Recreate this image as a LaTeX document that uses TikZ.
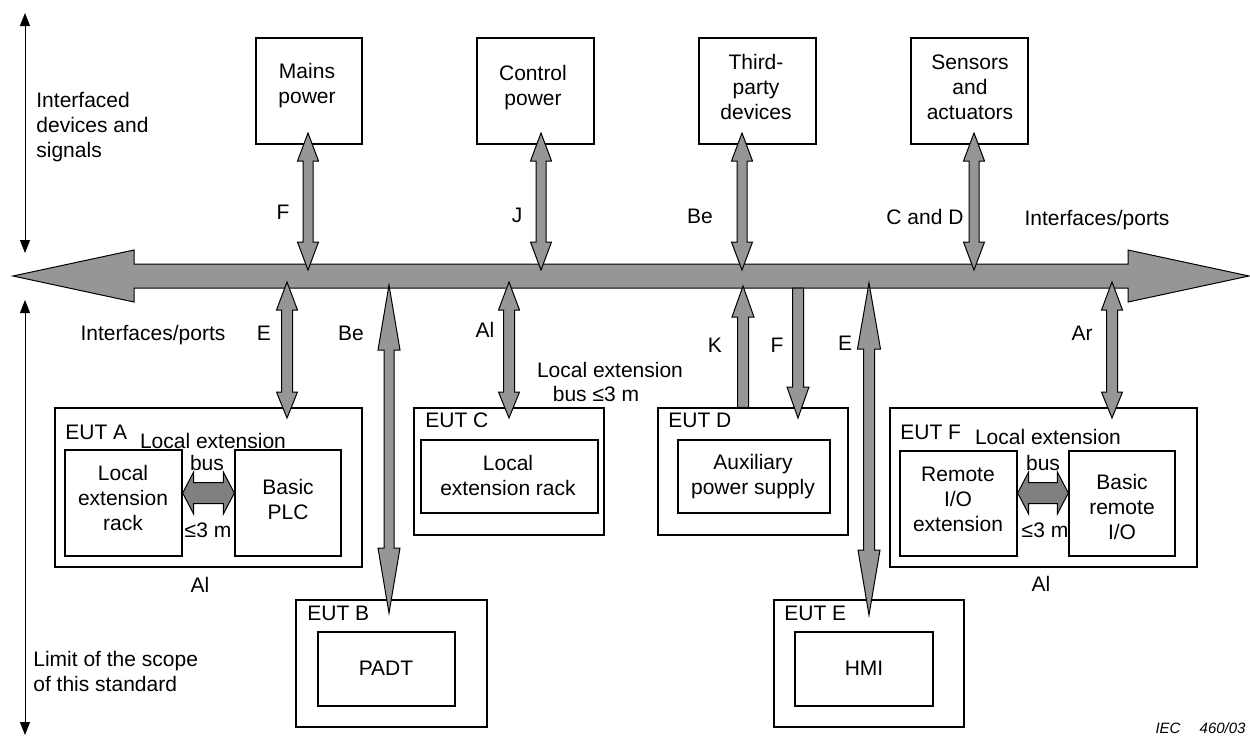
\documentclass[tikz,border=0pt]{standalone}
\usepackage{fontspec}
\setmainfont{Liberation Sans}
\usetikzlibrary{calc,fit,arrows.meta}
\definecolor{busgray}{RGB}{150,150,150}
\definecolor{bargray}{RGB}{128,128,128}
% vertical fat arrow: #1 style, #2 top, #3 bottom, #4 shaft half, #5 top head half, #6 top head len, #7 bottom head half, #8 bottom head len
\newcommand\vfat[8]{%
  \path[#1] let \p1=(#2), \p2=(#3) in
  (\x1,\y1) -- (\x1+#5,\y1-#6) -- (\x1+#4,\y1-#6) -- (\x1+#4,\y2+#8) -- (\x1+#7,\y2+#8)
  -- (\x1,\y2) -- (\x1-#7,\y2+#8) -- (\x1-#4,\y2+#8) -- (\x1-#4,\y1-#6) -- (\x1-#5,\y1-#6) -- cycle;}
% horizontal fat double arrow: #1 style, #2 left, #3 right, #4 shaft half, #5 head half, #6 head len
\newcommand\hfat[6]{%
  \path[#1] let \p1=(#2), \p2=(#3) in
  (\x1,\y1) -- (\x1+#6,\y1+#5) -- (\x1+#6,\y1+#4) -- (\x2-#6,\y1+#4) -- (\x2-#6,\y1+#5)
  -- (\x2,\y1) -- (\x2-#6,\y1-#5) -- (\x2-#6,\y1-#4) -- (\x1+#6,\y1-#4) -- (\x1+#6,\y1-#5) -- cycle;}
\tikzset{
  box/.style={draw=black, line width=0.65pt, inner sep=0pt},
  txt/.style={inner sep=0pt, align=center, font=\fontsize{10.5}{12.5}\selectfont},
  ltxt/.style={txt, anchor=west, align=left},
  fatarrow/.style={fill=busgray, draw=black, line width=0.5pt, line join=miter},
  smallarrow/.style={fill=bargray, draw=black, line width=0.5pt, line join=miter},
  thinarrow/.style={line width=0.5pt, {Triangle[width=5pt,length=6.5pt]}-{Triangle[width=5pt,length=6.5pt]}},
}
\begin{document}
\begin{tikzpicture}[x=0.5pt,y=-0.5pt]
\useasboundingbox (0,0) rectangle (1250,736);
\fill[white] (0,0) rectangle (1250,736);

% left scope arrows
\coordinate (sa1) at (25,13); \coordinate (sa2) at (25,253);
\coordinate (sb1) at (25,300); \coordinate (sb2) at (25,735);
\draw[thinarrow] (sa1) -- (sa2);
\draw[thinarrow] (sb1) -- (sb2);
\node[ltxt] (tIDS) at (36,127) {Interfaced\\devices and\\signals};
\node[ltxt] (tLimit) at (33,671) {Limit of the scope\\of this standard};

% top boxes
\node[box, fit={(256,38) (362,144)}] (mains) {};
\node[box, fit={(477,38) (594,144)}] (ctrl) {};
\node[box, fit={(699,38) (816,144)}] (third) {};
\node[box, fit={(911,38) (1028,144)}] (sens) {};
\node[txt] (tMains) at (307,86) {Mains\\power};
\node[txt] (tCtrl) at (533,88) {Control\\power};
\node[txt] (tThird) at (756,87) {Third-\\party\\devices};
\node[txt] (tSens) at (970,87) {Sensors\\and\\actuators};

% EUT A
\node[box, fit={(55,408) (362,567)}] (eutA) {};
\node[box, fit={(65,450) (182,556)}] (rackA) {};
\node[box, fit={(235,450) (341,556)}] (plcA) {};
\node[ltxt] (tEA) at (65,432) {EUT A};
\node[txt] (tLEA) at (213,441) {Local extension};
\node[txt] (tBusA) at (207,463) {bus};
\node[txt] (tLenA) at (208,530) {≤3 m};
\node[txt] (tRackA) at (123,498) {Local\\extension\\rack};
\node[txt] (tPlcA) at (288,499) {Basic\\PLC};
\node[txt] (tAlA) at (200,585) {Al};

% EUT C
\node[box, fit={(414,408) (604,535)}] (eutC) {};
\node[box, fit={(421,440) (598,513)}] (rackC) {};
\node[ltxt] (tEC) at (425,420) {EUT C};
\node[txt] (tRackC) at (508,475) {Local\\extension rack};
\node[txt] (tLEB1) at (610,370) {Local extension};
\node[txt] (tLEB2) at (596,394) {bus ≤3 m};

% EUT D
\node[box, fit={(658,408) (848,535)}] (eutD) {};
\node[box, fit={(678,440) (830,513)}] (auxD) {};
\node[ltxt] (tED) at (668,420) {EUT D};
\node[txt] (tAuxD) at (753,477) {Auxiliary\\power supply};

% EUT F
\node[box, fit={(890,408) (1197,567)}] (eutF) {};
\node[box, fit={(900,451) (1017,556)}] (rioF) {};
\node[box, fit={(1069,451) (1175,556)}] (briF) {};
\node[ltxt] (tEF) at (900,432) {EUT F};
\node[txt] (tLEF) at (1048,437) {Local extension};
\node[txt] (tBusF) at (1043,463) {bus};
\node[txt] (tLenF) at (1045,530) {≤3 m};
\node[txt] (tRioF) at (958,499) {Remote\\I/O\\extension};
\node[txt] (tBriF) at (1122,507) {Basic\\remote\\I/O};
\node[txt] (tAlF) at (1041,584) {Al};

% EUT B
\node[box, fit={(296,600) (487,727)}] (eutB) {};
\node[box, fit={(318,632) (455,706)}] (padt) {};
\node[ltxt] (tEB) at (307,613) {EUT B};
\node[txt] (tPadt) at (386,668) {PADT};

% EUT E
\node[box, fit={(774,600) (964,727)}] (eutE) {};
\node[box, fit={(795,632) (933,706)}] (hmi) {};
\node[ltxt] (tEE) at (784,613) {EUT E};
\node[txt] (tHmi) at (864,668) {HMI};

% bus
\coordinate (busL) at (13,276); \coordinate (busR) at (1249,276);
\hfat{fatarrow}{busL}{busR}{6pt}{13pt}{60.5pt}

% small local extension bus arrows
\coordinate (ly) at (0,493);
\coordinate (laL) at (rackA.east |- ly); \coordinate (laR) at (plcA.west |- ly);
\hfat{smallarrow}{laL}{laR}{5.25pt}{10.5pt}{5.5pt}
\coordinate (lfL) at (rioF.east |- ly); \coordinate (lfR) at (briF.west |- ly);
\hfat{smallarrow}{lfL}{lfR}{5.25pt}{10.5pt}{5.5pt}

% arrows between top devices and bus
\coordinate (mT) at (308,133); \coordinate (mB) at (308,270);
\coordinate (cT) at (541,133); \coordinate (cB) at (541,270);
\coordinate (tT) at (742,133); \coordinate (tB) at (742,270);
\coordinate (sT) at (974,133); \coordinate (sB) at (974,270);
\vfat{fatarrow}{mT}{mB}{2.5pt}{5.25pt}{14pt}{5.25pt}{14pt}
\vfat{fatarrow}{cT}{cB}{2.5pt}{5.25pt}{14pt}{5.25pt}{14pt}
\vfat{fatarrow}{tT}{tB}{2.5pt}{5.25pt}{14pt}{5.25pt}{14pt}
\vfat{fatarrow}{sT}{sB}{2.5pt}{5.25pt}{14pt}{5.25pt}{14pt}

% arrows between bus and EUTs
\coordinate (eaT) at (287,282); \coordinate (eaB) at (287,418);
\coordinate (ecT) at (509,282); \coordinate (ecB) at (509,418);
\coordinate (efT) at (1112,282); \coordinate (efB) at (1112,418);
\vfat{fatarrow}{eaT}{eaB}{2.75pt}{5.25pt}{14pt}{5.25pt}{13pt}
\vfat{fatarrow}{ecT}{ecB}{2.75pt}{5.25pt}{14pt}{5.25pt}{13pt}
\vfat{fatarrow}{efT}{efB}{2.75pt}{5.25pt}{14pt}{5.25pt}{13pt}
\coordinate (ebT) at (389,285); \coordinate (ebB) at (389,613);
\coordinate (eeT) at (869,283); \coordinate (eeB) at (869,615);
\vfat{fatarrow}{ebT}{ebB}{2.5pt}{5.5pt}{32.5pt}{5.5pt}{32.5pt}
\vfat{fatarrow}{eeT}{eeB}{2.75pt}{5.75pt}{33pt}{5.5pt}{32.5pt}
\coordinate (kT) at (743,286); \coordinate (kB) at (kT |- eutD.north);
\vfat{fatarrow}{kT}{kB}{2.75pt}{5.5pt}{15.5pt}{2.75pt}{0pt}
\coordinate (fT) at (798,288); \coordinate (fB) at (798,418);
\vfat{fatarrow}{fT}{fB}{2.75pt}{2.75pt}{0pt}{5.5pt}{15.5pt}

% connector labels
\node[txt] (lF1) at (283,212) {F};
\node[txt] (lJ) at (517,215) {J};
\node[txt] (lBe1) at (700,216) {Be};
\node[txt] (lCD) at (925,217) {C and D};
\node[txt] (tIPr) at (1097,220) {Interfaces/ports};
\node[txt] (tIPl) at (153,335) {Interfaces/ports};
\node[txt] (lE1) at (264,333) {E};
\node[txt] (lBe2) at (351,333) {Be};
\node[txt] (lAl1) at (485,330) {Al};
\node[txt] (lK) at (715,345) {K};
\node[txt] (lF2) at (777,345) {F};
\node[txt] (lE2) at (845,343) {E};
\node[txt] (lAr) at (1082,333) {Ar};

% figure number
\node[inner sep=0pt, anchor=east, font=\fontsize{7.5}{9}\selectfont\itshape] (iec) at (1246,728) {IEC\quad\ 460/03};
\end{tikzpicture}
\end{document}
